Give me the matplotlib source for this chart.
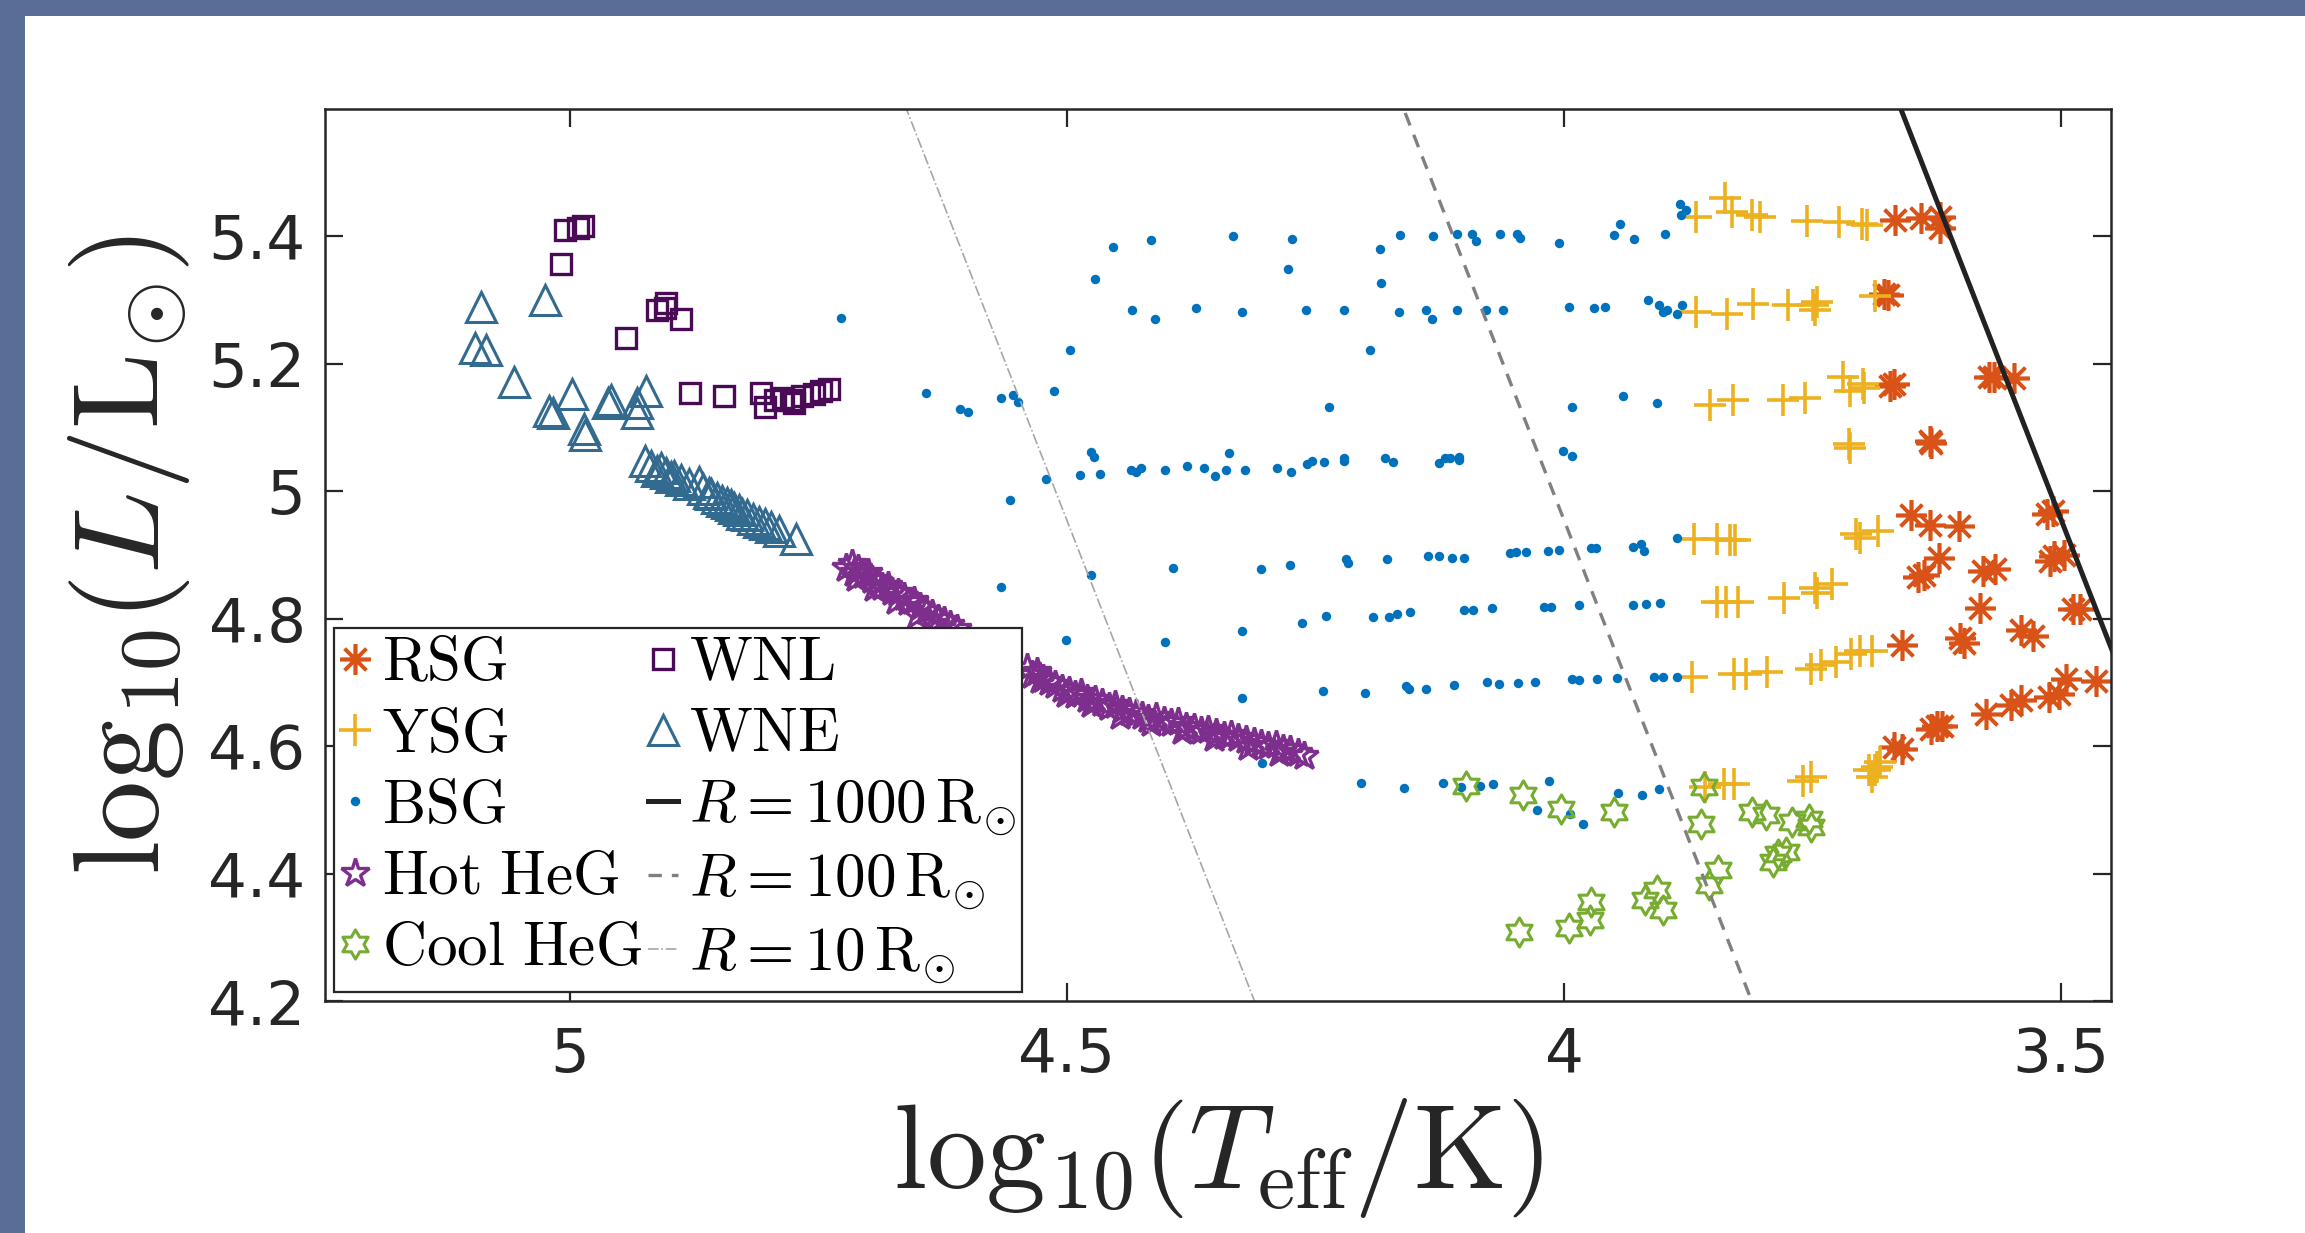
import numpy as np
import matplotlib
matplotlib.use("Agg")
import matplotlib.pyplot as plt
from matplotlib.path import Path
from matplotlib.patches import Rectangle

# log10(Teff/K), log10(L/Lsun) for each class of model star
rsg_logT = [3.667, 3.641, 3.622, 3.622, 3.678, 3.674, 3.668, 3.672, 3.573, 3.568,
            3.548, 3.632, 3.631, 3.651, 3.632, 3.603, 3.514, 3.508, 3.644, 3.638,
            3.623, 3.579, 3.567, 3.511, 3.497, 3.507, 3.582, 3.488, 3.481, 3.660,
            3.602, 3.598, 3.541, 3.528, 3.668, 3.660, 3.631, 3.625, 3.620, 3.576,
            3.551, 3.541, 3.512, 3.502, 3.495, 3.465]
rsg_logL = [5.426, 5.429, 5.430, 5.413, 5.309, 5.308, 5.169, 5.165, 5.179, 5.179,
            5.178, 5.079, 5.076, 4.962, 4.947, 4.946, 4.965, 4.969, 4.866, 4.869,
            4.896, 4.875, 4.878, 4.890, 4.900, 4.899, 4.817, 4.816, 4.816, 4.758,
            4.769, 4.762, 4.783, 4.773, 4.598, 4.596, 4.627, 4.632, 4.632, 4.651,
            4.664, 4.672, 4.677, 4.682, 4.705, 4.703]

ysg_logT = [3.867, 3.838, 3.831, 3.811, 3.803, 3.756, 3.724, 3.700, 3.695,
            3.867, 3.836, 3.810, 3.775, 3.750, 3.746, 3.748, 3.687,
            3.853, 3.830, 3.780, 3.758, 3.719, 3.712, 3.699, 3.698,
            3.713, 3.712,
            3.869, 3.846, 3.833, 3.828, 3.706, 3.684, 3.702,
            3.846, 3.837, 3.825, 3.779, 3.748, 3.746, 3.731,
            3.871, 3.829, 3.817, 3.796, 3.752, 3.742, 3.727, 3.711, 3.702, 3.690,
            3.858, 3.839, 3.829, 3.760, 3.752, 3.690, 3.685, 3.693, 3.682, 3.687]
ysg_logL = [5.431, 5.460, 5.439, 5.433, 5.430, 5.425, 5.423, 5.419, 5.418,
            5.282, 5.279, 5.294, 5.292, 5.293, 5.297, 5.285, 5.307,
            5.136, 5.143, 5.143, 5.147, 5.179, 5.157, 5.168, 5.162,
            5.074, 5.068,
            4.925, 4.925, 4.923, 4.923, 4.933, 4.938, 4.927,
            4.826, 4.826, 4.827, 4.833, 4.848, 4.841, 4.854,
            4.709, 4.713, 4.713, 4.716, 4.721, 4.727, 4.732, 4.745, 4.750, 4.750,
            4.536, 4.541, 4.541, 4.546, 4.551, 4.551, 4.567, 4.562, 4.575, 4.562]

bsg_logT = [4.727, 4.472, 4.454, 4.415, 4.333, 4.278, 4.274, 4.185, 4.184, 4.165,
            4.132, 4.108, 4.093, 4.089, 4.064, 4.047, 4.044, 4.005, 3.950, 3.944,
            3.930, 3.898, 3.883, 3.877, 3.882,
            4.497, 4.434, 4.411, 4.370, 4.324, 4.260, 4.221, 4.195, 4.166, 4.139,
            4.133, 4.108, 4.079, 4.061, 3.995, 3.970, 3.959, 3.916, 3.905, 3.901,
            3.896, 3.886, 3.881,
            4.642, 4.607, 4.599, 4.566, 4.554, 4.549, 4.513, 4.236, 3.992, 3.941,
            3.907,
            4.557, 4.521, 4.487, 4.476, 4.473, 4.467, 4.435, 4.430, 4.425, 4.401,
            4.379, 4.362, 4.351, 4.340, 4.337, 4.321, 4.289, 4.275, 4.259, 4.253,
            4.241, 4.221, 4.221, 4.180, 4.172, 4.126, 4.120, 4.115, 4.106, 4.106,
            4.001, 3.992,
            4.566, 4.476, 4.393, 4.305, 4.276, 4.219, 4.217, 4.178, 4.137, 4.126,
            4.113, 4.101, 4.054, 4.048, 4.038, 4.016, 4.005, 3.973, 3.968, 3.931,
            3.923, 3.920, 3.886,
            4.501, 4.401, 4.324, 4.264, 4.239, 4.192, 4.176, 4.168, 4.155, 4.101,
            4.092, 4.072, 4.020, 4.013, 3.985, 3.931, 3.918, 3.904,
            4.324, 4.242, 4.200, 4.159, 4.156, 4.139, 4.111, 4.077, 4.065, 4.046,
            4.029, 3.992, 3.985, 3.967, 3.947, 3.910, 3.901, 3.886,
            4.304, 4.204, 4.161, 4.122, 4.104, 4.085, 4.071, 4.015, 4.027, 3.994,
            3.981, 3.946, 3.922, 3.905]
bsg_logL = [5.272, 5.333, 5.384, 5.395, 5.400, 5.349, 5.396, 5.381, 5.327, 5.403,
            5.400, 5.404, 5.404, 5.393, 5.404, 5.404, 5.397, 5.389, 5.402, 5.419,
            5.396, 5.404, 5.451, 5.442, 5.434,
            5.221, 5.284, 5.270, 5.288, 5.282, 5.285, 5.284, 5.221, 5.282, 5.284,
            5.271, 5.284, 5.285, 5.285, 5.289, 5.288, 5.289, 5.300, 5.293, 5.282,
            5.284, 5.279, 5.293,
            5.154, 5.129, 5.125, 5.147, 5.151, 5.140, 5.158, 5.132, 5.132, 5.149,
            5.139,
            4.986, 5.020, 5.026, 5.062, 5.054, 5.027, 5.034, 5.031, 5.036, 5.034,
            5.039, 5.037, 5.024, 5.033, 5.060, 5.034, 5.037, 5.030, 5.043, 5.048,
            5.046, 5.053, 5.048, 5.053, 5.046, 5.045, 5.052, 5.053, 5.054, 5.049,
            5.063, 5.056,
            4.850, 4.869, 4.879, 4.878, 4.885, 4.894, 4.888, 4.894, 4.898, 4.898,
            4.896, 4.896, 4.903, 4.904, 4.905, 4.907, 4.908, 4.911, 4.911, 4.912,
            4.917, 4.907, 4.927,
            4.766, 4.763, 4.781, 4.793, 4.805, 4.802, 4.803, 4.808, 4.811, 4.813,
            4.814, 4.817, 4.818, 4.818, 4.822, 4.822, 4.823, 4.824,
            4.676, 4.686, 4.683, 4.695, 4.689, 4.690, 4.696, 4.701, 4.698, 4.699,
            4.700, 4.706, 4.704, 4.705, 4.707, 4.709, 4.708, 4.709,
            4.573, 4.542, 4.535, 4.542, 4.536, 4.537, 4.540, 4.545, 4.500, 4.494,
            4.478, 4.526, 4.523, 4.532]

hot_logT = [4.722, 4.716, 4.714, 4.710, 4.705, 4.700, 4.696, 4.690, 4.686, 4.680,
            4.676, 4.670, 4.664, 4.660, 4.654, 4.648, 4.642, 4.636, 4.630, 4.624,
            4.618, 4.610, 4.712, 4.694, 4.672, 4.651, 4.633,
            4.540, 4.535, 4.530, 4.524, 4.518, 4.512, 4.505, 4.498, 4.492, 4.486,
            4.480, 4.472, 4.465, 4.458, 4.452, 4.445, 4.438, 4.430, 4.424, 4.418,
            4.410, 4.402, 4.395, 4.388, 4.380, 4.372, 4.365, 4.358, 4.350, 4.342,
            4.335, 4.328, 4.320, 4.312, 4.305, 4.298, 4.290, 4.283, 4.276, 4.268,
            4.262, 4.527, 4.501, 4.476, 4.447, 4.415, 4.384, 4.352, 4.318, 4.287]
hot_logL = [4.880, 4.886, 4.872, 4.878, 4.868, 4.872, 4.860, 4.858, 4.850, 4.852,
            4.842, 4.840, 4.834, 4.826, 4.828, 4.818, 4.812, 4.808, 4.800, 4.796,
            4.790, 4.784, 4.864, 4.848, 4.828, 4.806, 4.792,
            4.722, 4.712, 4.716, 4.705, 4.700, 4.696, 4.690, 4.686, 4.680, 4.684,
            4.674, 4.672, 4.668, 4.662, 4.664, 4.656, 4.654, 4.650, 4.648, 4.642,
            4.645, 4.640, 4.636, 4.638, 4.630, 4.628, 4.624, 4.626, 4.620, 4.616,
            4.618, 4.612, 4.610, 4.606, 4.604, 4.600, 4.602, 4.596, 4.594, 4.590,
            4.584, 4.704, 4.682, 4.666, 4.648, 4.636, 4.624, 4.612, 4.599, 4.589]

cool_logT = [4.099, 4.041, 4.003, 3.950, 3.859, 3.862, 3.811, 3.797, 3.771, 3.754,
             3.752, 3.785, 3.777, 3.790, 3.845, 3.854, 3.907, 3.919, 3.901, 3.973,
             3.974, 3.995, 4.045]
cool_logL = [4.538, 4.524, 4.502, 4.497, 4.536, 4.478, 4.497, 4.492, 4.481, 4.486,
             4.473, 4.431, 4.434, 4.418, 4.405, 4.382, 4.374, 4.358, 4.343, 4.356,
             4.327, 4.314, 4.309]

wnl_logT = [5.005, 4.992, 4.987, 5.009, 4.912, 4.903, 4.904, 4.888, 4.943, 4.879,
            4.845, 4.808, 4.804, 4.793, 4.777, 4.766, 4.754, 4.747, 4.739, 4.774,
            4.785]
wnl_logL = [5.410, 5.413, 5.417, 5.356, 5.284, 5.296, 5.288, 5.270, 5.240, 5.155,
            5.150, 5.155, 5.132, 5.143, 5.143, 5.149, 5.152, 5.157, 5.161, 5.139,
            5.147]

wne_logT = [5.089, 5.025, 5.095, 5.084, 5.056, 5.021, 5.017, 4.998, 4.961, 4.958,
            4.932, 4.932, 4.923, 4.986, 4.985,
            4.924, 4.918, 4.912, 4.908, 4.903, 4.898, 4.895, 4.888, 4.880, 4.870,
            4.866, 4.860, 4.858, 4.852, 4.847, 4.842, 4.838, 4.835, 4.830, 4.827,
            4.822, 4.816, 4.810, 4.804, 4.798, 4.789, 4.772]
wne_logL = [5.290, 5.300, 5.225, 5.221, 5.171, 5.126, 5.123, 5.152, 5.139, 5.144,
            5.139, 5.123, 5.157, 5.097, 5.089,
            5.048, 5.040, 5.032, 5.036, 5.029, 5.022, 5.024, 5.018, 5.012, 5.014,
            5.004, 4.998, 4.995, 4.990, 4.985, 4.982, 4.978, 4.974, 4.970, 4.964,
            4.962, 4.956, 4.952, 4.948, 4.944, 4.938, 4.925]

# constant-radius lines, R in solar radii
radii = [1000, 100, 10]
LOG_TSUN = np.log10(5772.0)

plt.rcParams["mathtext.fontset"] = "cm"
fig = plt.figure(figsize=(11.525, 6.165), dpi=200, facecolor="#586e96")
fig.patches.append(Rectangle((25 / 2305, 0), 1, 1 - 16 / 1233, transform=fig.transFigure,
                             facecolor="white", edgecolor="none", zorder=-10))
ax = fig.add_axes([325 / 2305, 1 - 1001 / 1233, 1786 / 2305, 892 / 1233])

# MATLAB-style hexagram
ang = np.pi / 2 + np.arange(12) * np.pi / 6
rad = np.where(np.arange(12) % 2 == 0, 1.0, 1 / np.sqrt(3))
hexagram = Path(np.column_stack([rad * np.cos(ang), rad * np.sin(ang)]).tolist() + [[0, 1]],
                closed=True)

h_rsg, = ax.plot(rsg_logT, rsg_logL, ls="none", marker=(8, 2, 0), ms=11, mew=1.3,
                 color="#D95319", label=r"$\mathrm{RSG}$")
h_ysg, = ax.plot(ysg_logT, ysg_logL, ls="none", marker="+", ms=11.5, mew=1.3,
                 color="#EDB120", label=r"$\mathrm{YSG}$")
h_bsg, = ax.plot(bsg_logT, bsg_logL, ls="none", marker="o", ms=3.4, mew=0,
                 color="#0072BD", label=r"$\mathrm{BSG}$")
h_hot, = ax.plot(hot_logT, hot_logL, ls="none", marker="*", ms=10.5, mew=1.2,
                 mfc="none", color="#7E2F8E", label=r"$\mathrm{Hot\ HeG}$")
h_cool, = ax.plot(cool_logT, cool_logL, ls="none", marker=hexagram, ms=10.5, mew=1.1,
                  mfc="none", color="#77AC30", label=r"$\mathrm{Cool\ HeG}$")
h_wnl, = ax.plot(wnl_logT, wnl_logL, ls="none", marker="s", ms=7.5, mew=1.2,
                 mfc="none", color="#4B0A55", label=r"$\mathrm{WNL}$")
h_wne, = ax.plot(wne_logT, wne_logL, ls="none", marker="^", ms=11, mew=1.1,
                 mfc="none", color="#336A8F", label=r"$\mathrm{WNE}$")

# L = 4 pi R^2 sigma T^4 in solar units
tt = np.array([3.3, 5.4])
styles = [dict(color="#222222", lw=1.8, ls="-"),
          dict(color="#808080", lw=1.2, ls=(0, (4, 3))),
          dict(color="#a6a6a6", lw=0.6, ls="-.")]
h_r = []
for r, st in zip(radii, styles):
    ll = 2 * np.log10(r) + 4 * (tt - LOG_TSUN)
    h, = ax.plot(tt, ll, label=rf"$R = {r}\,\mathrm{{R}}_{{\odot}}$", **st)
    h_r.append(h)

ax.set_xlim(5.246, 3.45)
ax.set_ylim(4.2, 5.6)
ax.set_xticks([5, 4.5, 4, 3.5])
ax.set_xticklabels(["5", "4.5", "4", "3.5"])
ax.set_yticks([4.2, 4.4, 4.6, 4.8, 5.0, 5.2, 5.4])
ax.set_yticklabels(["4.2", "4.4", "4.6", "4.8", "5", "5.2", "5.4"])
ax.tick_params(direction="in", top=True, right=True, length=6.5, width=0.8,
               labelsize=22, colors="#262626")
ax.tick_params(axis="x", pad=9)
ax.tick_params(axis="y", pad=7)
for s in ax.spines.values():
    s.set_linewidth(0.9)
    s.set_color("#262626")

ax.set_xlabel(r"$\mathrm{log}_{10}\left(T_{\mathrm{eff}}/\mathrm{K}\right)$", fontsize=43,
              color="#262626", labelpad=4)
ax.set_ylabel(r"$\mathrm{log}_{10}\left(L/\mathrm{L}_{\odot}\right)$", fontsize=44,
              color="#262626", labelpad=6)

handles = [h_rsg, h_ysg, h_bsg, h_hot, h_cool, h_wnl, h_wne] + h_r
leg = ax.legend(handles=handles, ncol=2, loc="lower left", bbox_to_anchor=(0.005, 0.01),
                borderaxespad=0, fontsize=22, handlelength=0.5, handletextpad=0.18,
                columnspacing=0.1, borderpad=0.1, labelspacing=0.2, numpoints=1,
                fancybox=False, framealpha=1)
leg.get_frame().set_edgecolor("#262626")
leg.get_frame().set_linewidth(0.8)

fig.savefig("out.png", dpi=200, facecolor=fig.get_facecolor())
